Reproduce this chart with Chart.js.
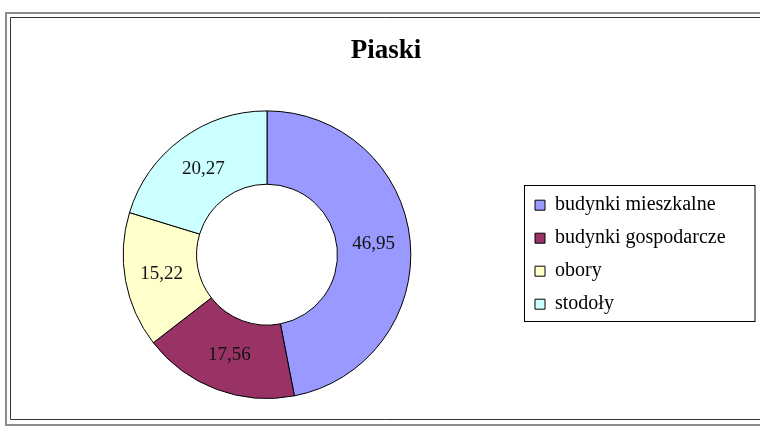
<!DOCTYPE html>
<html lang="pl">

<head>
    <meta charset="UTF-8">
    <meta name="viewport" content="width=device-width, initial-scale=1.0">
    <title>Piaski</title>
    <script src="https://cdn.jsdelivr.net/npm/chart.js"></script>
    <style>
        body {
            margin: 0;
            background: #fff;
        }
    </style>
</head>

<body>

    <canvas id="grafico1" width="760" height="428"></canvas>

</body>

</html>

<script>

    // dane do wykresu
    var kategorie = ['budynki mieszkalne', 'budynki gospodarcze', 'obory', 'stodoły'];
    var wartosci = [46.95, 17.56, 15.22, 20.27];
    var tytul = 'Piaski';

    var czcionka = '"Liberation Serif", "Times New Roman", serif';
    var ctx1 = document.getElementById('grafico1');

    // podwójna ramka wokół całego wykresu
    var ramka = {
        id: 'ramka',
        beforeDraw: function (chart) {
            var c = chart.ctx;
            c.save();
            c.fillStyle = '#fff';
            c.fillRect(0, 0, chart.width, chart.height);

            c.strokeStyle = '#8c8c8c';
            c.lineWidth = 2;
            c.beginPath();
            c.moveTo(chart.width + 5, 13);
            c.lineTo(6, 13);
            c.lineTo(6, 425);
            c.lineTo(chart.width + 5, 425);
            c.stroke();

            c.strokeStyle = '#333';
            c.lineWidth = 1;
            c.beginPath();
            c.moveTo(chart.width + 5, 17.5);
            c.lineTo(10.5, 17.5);
            c.lineTo(10.5, 419.5);
            c.lineTo(chart.width + 5, 419.5);
            c.stroke();
            c.restore();
        }
    };

    // wartości wpisane na środku każdego wycinka
    var etykiety = {
        id: 'etykiety',
        afterDatasetsDraw: function (chart) {
            var c = chart.ctx;
            var meta = chart.getDatasetMeta(0);
            c.save();
            c.font = '19px ' + czcionka;
            c.fillStyle = '#111';
            c.textAlign = 'center';
            c.textBaseline = 'middle';
            meta.data.forEach(function (luk, i) {
                var p = luk.tooltipPosition();
                c.fillText(wartosci[i].toFixed(2).replace('.', ','), p.x, p.y);
            });
            c.restore();
        }
    };

    // szersza legenda z obramowaniem
    var ramkaLegendy = {
        id: 'ramkaLegendy',
        beforeInit: function (chart) {
            var fitOryginalny = chart.legend.fit;
            chart.legend.fit = function () {
                fitOryginalny.call(this);
                this.width = 238;
            };
        },
        afterDraw: function (chart) {
            var pola = chart.legend.legendHitBoxes;
            var pierwsze = pola[0];
            var ostatnie = pola[pola.length - 1];
            var c = chart.ctx;
            var x = Math.round(chart.legend.left) + 2.5;
            var y = Math.round(pierwsze.top) - 9.5;
            var w = chart.width - 5 - x;
            var h = Math.round(ostatnie.top + ostatnie.height) + 7.5 - y;
            c.save();
            c.strokeStyle = '#000';
            c.lineWidth = 1;
            c.strokeRect(x, y, w, h);
            c.restore();
        }
    };

    new Chart(ctx1, {
        type: 'doughnut',
        data: {
            labels: kategorie,
            datasets: [{
                data: wartosci,
                backgroundColor: ['#9999ff', '#993366', '#ffffcc', '#ccffff'],
                borderColor: '#000',
                borderWidth: 1,
                hoverOffset: 0
            }]
        },
        options: {
            responsive: false,
            animation: false,
            events: [],
            cutout: '49%',
            layout: {
                padding: { top: 20, left: 12, right: 0, bottom: 29 }
            },
            plugins: {
                title: {
                    display: true,
                    text: tytul,
                    color: '#000',
                    font: {
                        size: 27,
                        weight: 'bold',
                        family: czcionka
                    },
                    padding: { top: 15, bottom: 43 }
                },
                legend: {
                    position: 'right',
                    align: 'center',
                    fullSize: false,
                    labels: {
                        color: '#000',
                        font: {
                            size: 20,
                            family: czcionka
                        },
                        boxWidth: 10,
                        boxHeight: 10,
                        padding: 13
                    }
                },
                tooltip: { enabled: false }
            }
        },
        plugins: [ramka, etykiety, ramkaLegendy]
    });

</script>
